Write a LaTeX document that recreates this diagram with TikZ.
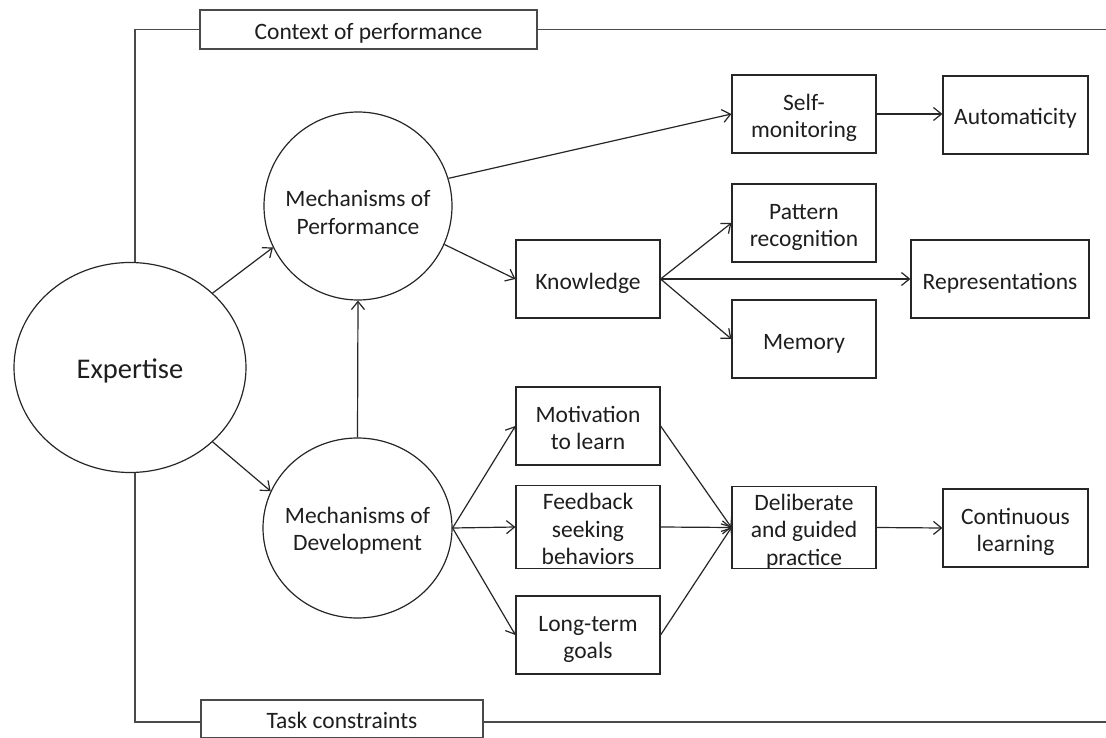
\documentclass[tikz,border=0pt]{standalone}
\usepackage{fontspec}
\setmainfont{Carlito}
\usetikzlibrary{arrows.meta,shapes.geometric}
\definecolor{linec}{HTML}{262626}
\definecolor{framec}{HTML}{4A4A4A}
\definecolor{txt}{HTML}{1E1E1E}
% text lowered a little, keeping its reported size (centring unchanged)
\newcommand{\dn}[2][4.5pt]{\raisebox{-#1}[\height][\depth]{\begin{tabular}{@{}c@{}}#2\end{tabular}}}
% zero-width version for the round nodes, so the ellipse does not grow
\newcommand{\zdn}[2][4.5pt]{\makebox[0pt]{\dn[#1]{#2}}}
\begin{document}
\begin{tikzpicture}[x=1pt,y=-1pt,
  box/.style={draw=linec, line width=1.2pt, minimum width=144pt, minimum height=78pt,
    inner sep=0pt, font=\fontsize{23.5}{27.5}\selectfont, text=txt},
  circ/.style={draw=linec, ellipse, line width=1.2pt, inner sep=0pt,
    font=\fontsize{23.5}{27.5}\selectfont, text=txt},
  arr/.style={draw=linec, line width=1.2pt, -{Straight Barb[length=8pt,width=13pt]}},
  frame/.style={draw=framec, line width=1.8pt},
]
\fill[white] (0,0) rectangle (1106,738);
\useasboundingbox (0,0) rectangle (1106,738);

% frame labels
\node[box, draw=framec, minimum width=337pt, minimum height=39pt] (ctx) at (368.5,29.5) {\dn{Context of performance}};
\node[box, draw=framec, minimum width=282pt, minimum height=38pt] (task) at (342,719) {\dn[3.5pt]{Task constraints}};

% main nodes
\node[circ, minimum width=232pt, minimum height=210pt, font=\fontsize{28.5}{34}\selectfont] (exp) at (130,367.5) {\zdn{Expertise}};
\node[circ, minimum width=188pt, minimum height=188pt] (mp) at (358,206) {\zdn[9pt]{Mechanisms of\\Performance}};
\node[circ, minimum width=189pt, minimum height=180pt] (md) at (357.5,528) {\zdn[3.5pt]{Mechanisms of\\Development}};

\node[box] (self) at (804,114) {\dn{Self-\\monitoring}};
\node[box, minimum width=145pt] (auto) at (1015.5,115) {\dn{Automaticity}};
\node[box] (pat) at (804,223) {\dn{Pattern\\recognition}};
\node[box] (know) at (588,279) {\dn{Knowledge}};
\node[box, minimum width=178pt] (rep) at (1000,279) {\dn{Representations}};
\node[box] (mem) at (804,339) {\dn{Memory}};

\node[box] (mot) at (588,426) {\dn{Motivation\\to learn}};
\node[box] (fb) at (588,527) {\dn{Feedback\\seeking\\behaviors}};
\node[box] (lt) at (588,635) {\dn{Long-term\\goals}};
\node[box, minimum height=79pt] (del) at (804,527.5) {\dn{Deliberate\\and guided\\practice}};
\node[box, minimum width=145pt] (cont) at (1015.5,528) {\dn{Continuous\\learning}};

% frame lines
\coordinate (tl) at (135,29.5);
\coordinate (tr) at (1106,29.5);
\coordinate (bl) at (135,722);
\coordinate (br) at (1106,722);
\draw[frame] (ctx.west) -- (tl) -- (tl |- exp.north);
\draw[frame] (ctx.east) -- (tr);
\draw[frame] (task.west |- bl) -- (bl) -- (bl |- exp.south);
\draw[frame] (task.east |- br) -- (br);

% connectors
\draw[arr] (exp.42) -- (mp.206);
\draw[arr] (exp.-42) -- (md.157);
\draw[arr] (md.north) -- (mp.south);
\draw[arr] (mp.17) -- (self.west);
\draw[arr] (self.east) -- (self.east -| auto.west);
\draw[arr] (mp.-24) -- (know.west);
\draw[arr] (know.east) -- (pat.west);
\draw[arr] (know.east) -- (rep.west);
\draw[arr] (know.east) -- (mem.west);
\draw[arr] (md.east) -- (mot.west);
\draw[arr] (md.east) -- (fb.west);
\draw[arr] (md.east) -- (lt.west);
\draw[arr] (mot.east) -- (del.west);
\draw[arr] (fb.east) -- (del.west);
\draw[arr] (lt.east) -- (del.west);
\draw[arr] (del.east) -- (cont.west);
\end{tikzpicture}
\end{document}
